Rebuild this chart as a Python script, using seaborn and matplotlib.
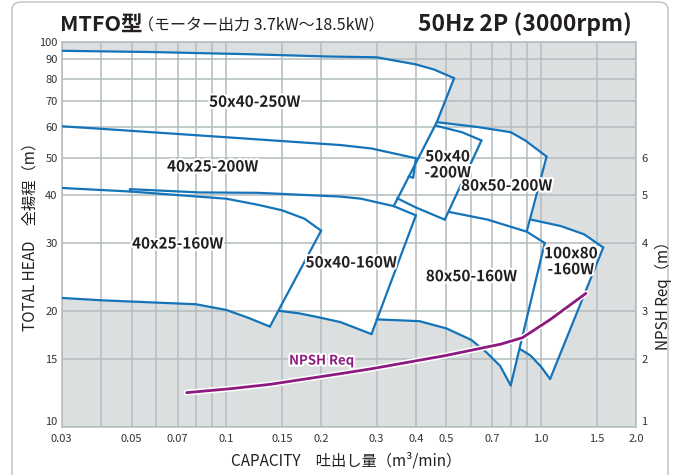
import matplotlib
matplotlib.use("Agg")
import seaborn as sns
import matplotlib.pyplot as plt
import matplotlib.patheffects as pe
from matplotlib.patches import FancyBboxPatch

sns.set_theme(style="white")
plt.rcParams['font.family'] = ['Noto Sans CJK JP', 'DejaVu Sans']

# capacity (m3/min) / total head (m)
top_250_q = [0.03, 0.058, 0.117, 0.213, 0.30, 0.40, 0.456, 0.529]
top_250_h = [94.7, 94.0, 92.8, 91.5, 91.1, 87.3, 84.7, 80.4]
edge_250_q = [0.529, 0.466, 0.340]
edge_250_h = [80.4, 61.8, 37.4]

top_200a_q = [0.03, 0.04, 0.09, 0.23, 0.289, 0.40]
top_200a_h = [60.3, 59.4, 56.8, 53.9, 52.8, 49.8]
edge_200a_q = [0.40, 0.392, 0.379]
edge_200a_h = [49.8, 44.3, 44.7]

top_160a_q = [0.03, 0.05, 0.10, 0.126, 0.15, 0.177, 0.20]
top_160a_h = [41.7, 40.8, 39.1, 37.7, 36.5, 34.7, 32.3]
edge_160a_q = [0.20, 0.1375]
edge_160a_h = [32.3, 18.2]
bot_160a_q = [0.03, 0.04, 0.08, 0.10, 0.117, 0.1375]
bot_160a_h = [21.6, 21.3, 20.8, 20.1, 19.2, 18.2]

top_160b_q = [0.0494, 0.0494, 0.0818, 0.126, 0.23, 0.268, 0.340, 0.40]
top_160b_h = [40.8, 41.4, 40.6, 40.5, 39.6, 39.1, 37.4, 35.4]
edge_160b_q = [0.40, 0.289]
edge_160b_h = [35.4, 17.4]
bot_160b_q = [0.147, 0.170, 0.193, 0.23, 0.289]
bot_160b_h = [20.0, 19.7, 19.3, 18.7, 17.4]

top_200b_q = [0.460, 0.560, 0.646]
top_200b_h = [60.6, 58.2, 55.4]
edge_200b_q = [0.646, 0.494]
edge_200b_h = [55.4, 34.5]
bot_200b_q = [0.349, 0.40, 0.494]
bot_200b_h = [39.2, 37.1, 34.5]

top_200c_q = [0.466, 0.631, 0.80, 0.89, 1.04]
top_200c_h = [61.8, 60.0, 58.2, 55.4, 50.3]
edge_200c_q = [1.04, 0.90]
edge_200c_h = [50.3, 32.2]
bot_200c_q = [0.512, 0.676, 0.90, 1.026]
bot_200c_h = [36.1, 34.5, 32.1, 30.0]

edge_160c_q = [1.026, 0.80]
edge_160c_h = [30.0, 12.8]
bot_160c_q = [0.30, 0.41, 0.50, 0.60, 0.67, 0.74, 0.80]
bot_160c_h = [19.0, 18.8, 18.0, 16.8, 15.6, 14.4, 12.8]

top_160d_q = [0.929, 1.154, 1.369, 1.574]
top_160d_h = [34.5, 33.2, 31.6, 29.2]
edge_160d_q = [1.574, 1.067]
edge_160d_h = [29.2, 13.3]
bot_160d_q = [0.858, 0.925, 1.0, 1.067]
bot_160d_h = [15.9, 15.3, 14.3, 13.3]

npsh_q = [0.0748, 0.103, 0.1375, 0.230, 0.289, 0.494, 0.743, 0.872, 1.067, 1.387]
npsh_h = [12.26, 12.55, 12.88, 13.73, 14.14, 15.29, 16.38, 17.03, 18.97, 22.2]

grid_x = [0.03, 0.04, 0.05, 0.06, 0.07, 0.08, 0.09, 0.1, 0.15, 0.2, 0.3, 0.4,
          0.5, 0.6, 0.7, 0.8, 0.9, 1.0, 1.5, 2.0]
grid_x_labels = ["0.03", "", "0.05", "", "0.07", "", "", "0.1", "0.15", "0.2",
                 "0.3", "0.4", "0.5", "", "0.7", "", "", "1.0", "1.5", "2.0"]
grid_y = [10, 15, 20, 30, 40, 50, 60, 70, 80, 90, 100]
npsh_ticks = [10, 15, 20, 30, 40, 50]
npsh_labels = ["1", "2", "3", "4", "5", "6"]

models = ["50x40-250W", "40x25-200W", "40x25-160W", "50x40-160W", "80x50-160W",
          "50x40\n-200W", "80x50-200W", "100x80\n-160W"]
model_q = [0.123, 0.0904, 0.070, 0.249, 0.60, 0.504, 0.776, 1.241]
model_h = [69.8, 47.4, 29.9, 26.7, 24.6, 48.0, 42.3, 26.9]

BLUE = "#1474ba"
PURPLE = "#8c1a80"
GRID = "#b3bcbf"
BG = "#dcdfe0"
INK = "#231f20"

fig = plt.figure(figsize=(6.77, 4.75), dpi=100)
ax = fig.add_axes([61.7 / 677, 1 - 426.7 / 475, (636 - 61.7) / 677, (426.7 - 41.7) / 475])
ax.set_facecolor(BG)
ax.set_xscale("log")
ax.set_yscale("log")

# white operating envelope (union of all the tiles)
env_q = (top_250_q + edge_250_q[1:2] + top_200c_q[1:] + top_160d_q + edge_160d_q[1:]
         + bot_160d_q[::-1][1:] + edge_160c_q[1:] + bot_160c_q[::-1][1:]
         + edge_160b_q[1:] + bot_160b_q[::-1][1:] + edge_160a_q[1:] + bot_160a_q[::-1][1:])
env_h = (top_250_h + edge_250_h[1:2] + top_200c_h[1:] + top_160d_h + edge_160d_h[1:]
         + bot_160d_h[::-1][1:] + edge_160c_h[1:] + bot_160c_h[::-1][1:]
         + edge_160b_h[1:] + bot_160b_h[::-1][1:] + edge_160a_h[1:] + bot_160a_h[::-1][1:])
ax.fill(env_q, env_h, color="white", zorder=1, lw=0)

ax.set_xlim(0.03, 2.0)
ax.set_ylim(10, 100)
ax.set_xticks(grid_x)
ax.set_xticklabels(grid_x_labels)
ax.set_yticks(grid_y)
ax.set_yticklabels([str(v) for v in grid_y])
ax.minorticks_off()
ax.set_axisbelow(False)
ax.grid(True, color=GRID, lw=1.1, zorder=2)
ax.tick_params(axis="x", length=0, labelsize=8, colors="#333333", pad=5)
ax.tick_params(axis="y", length=0, labelsize=8, colors="#333333", pad=3)
# lift the bottom-left label a bit as in the original
ax.get_yticklabels()[0].set_verticalalignment("bottom")
for s in ax.spines.values():
    s.set_color(GRID)
    s.set_linewidth(1.1)

curves = [
    (top_250_q, top_250_h), (edge_250_q, edge_250_h),
    (top_200a_q, top_200a_h), (edge_200a_q, edge_200a_h),
    (top_160a_q, top_160a_h), (edge_160a_q, edge_160a_h), (bot_160a_q, bot_160a_h),
    (top_160b_q, top_160b_h), (edge_160b_q, edge_160b_h), (bot_160b_q, bot_160b_h),
    (top_200b_q, top_200b_h), (edge_200b_q, edge_200b_h), (bot_200b_q, bot_200b_h),
    (top_200c_q, top_200c_h), (edge_200c_q, edge_200c_h), (bot_200c_q, bot_200c_h),
    (edge_160c_q, edge_160c_h), (bot_160c_q, bot_160c_h),
    (top_160d_q, top_160d_h), (edge_160d_q, edge_160d_h), (bot_160d_q, bot_160d_h),
]
for q, h in curves:
    sns.lineplot(x=q, y=h, sort=False, estimator=None, color=BLUE, lw=1.6, ax=ax, zorder=4)

sns.lineplot(x=npsh_q, y=npsh_h, sort=False, estimator=None, color=PURPLE, lw=2.0, ax=ax,
             zorder=5, path_effects=[pe.Stroke(linewidth=4.2, foreground="white"), pe.Normal()])
ax.text(0.201, 14.85, "NPSH Req", color=PURPLE, fontsize=9.5, fontweight="bold",
        ha="center", va="center", zorder=6,
        path_effects=[pe.withStroke(linewidth=3, foreground="white")])

for name, q, h in zip(models, model_q, model_h):
    ax.text(q, h, name, color=INK, fontsize=11, fontweight="bold", ha="center",
            va="center", linespacing=1.0, zorder=6,
            path_effects=[pe.withStroke(linewidth=3, foreground="white")])

ax2 = ax.twinx()
ax2.set_yscale("log")
ax2.set_ylim(10, 100)
ax2.set_yticks(npsh_ticks)
ax2.set_yticklabels(npsh_labels)
ax2.minorticks_off()
ax2.tick_params(length=0, labelsize=8, colors="#333333", pad=4)
ax2.get_yticklabels()[0].set_verticalalignment("bottom")
for s in ax2.spines.values():
    s.set_visible(False)

fig.text(60 / 677, 1 - 31 / 475, "MTFO型", fontsize=15.5, fontweight="bold", color=INK,
         va="baseline")
fig.text(138 / 677, 1 - 30 / 475, "（モーター出力 3.7kW～18.5kW）", fontsize=11.5,
         color=INK, va="baseline")
fig.text(632 / 677, 1 - 31 / 475, "50Hz 2P (3000rpm)", fontsize=16.5, fontweight="bold",
         color=INK, va="baseline", ha="right")

fig.text(30 / 677, 1 - 233 / 475, "TOTAL HEAD　全揚程（m）", rotation=90, fontsize=11,
         color=INK, ha="center", va="center")
fig.text(663 / 677, 1 - 292 / 475, "NPSH Req（m）", rotation=90, fontsize=11,
         color=INK, ha="center", va="center")
fig.text(346 / 677, 1 - 461 / 475, "CAPACITY　吐出し量（m³/min）", fontsize=11,
         color=INK, ha="center", va="center")

frame = FancyBboxPatch((12 / 677, -0.05), (668 - 12) / 677, 1.05 - 2 / 475,
                       boxstyle="round,pad=0,rounding_size=0.015", transform=fig.transFigure,
                       fill=False, ec="#b9c0c4", lw=1.0)
fig.patches.append(frame)

fig.savefig("out.png", dpi=100)
